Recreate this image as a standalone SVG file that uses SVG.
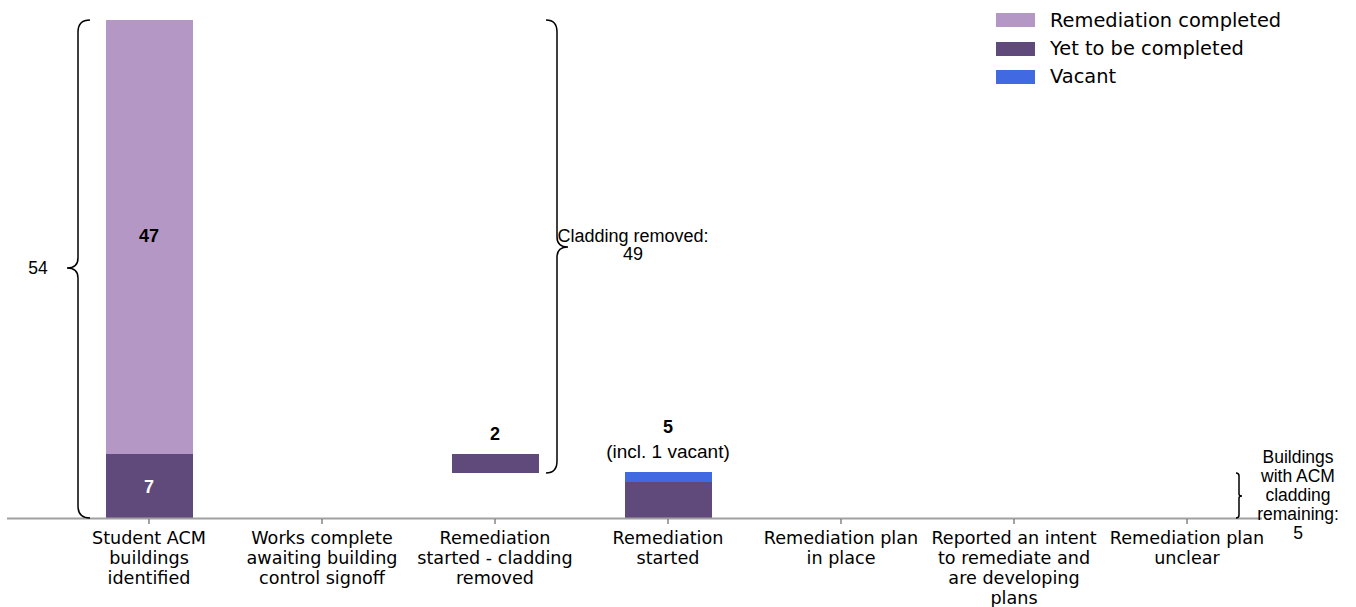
<svg xmlns="http://www.w3.org/2000/svg" width="1356" height="607" viewBox="0 0 1356 607">
<style>
.cat{font-family:"DejaVu Sans",sans-serif;font-size:17.6px;fill:#000;text-anchor:middle}
.leg{font-family:"DejaVu Sans",sans-serif;font-size:19.4px;fill:#000}
.val{font-family:"Liberation Sans",Arial,sans-serif;font-size:18px;font-weight:bold;fill:#000;text-anchor:middle}
.ann{font-family:"Liberation Sans",Arial,sans-serif;font-size:18px;fill:#000;text-anchor:middle}
.ann2{font-family:"Liberation Sans",Arial,sans-serif;font-size:17.5px;fill:#000;text-anchor:middle}
.done{fill:#b497c4}
.todo{fill:#604a7b}
.vac{fill:#4169e1}
.brace{fill:none;stroke:#000;stroke-width:1.5}
.tick{stroke:#666;stroke-width:1.2}
</style>
<rect width="1356" height="607" fill="#fff"/>
<g id="legend">
<rect class="done" x="996" y="13" width="39" height="14"/>
<text class="leg" x="1050" y="27">Remediation completed</text>
<rect class="todo" x="996" y="42" width="39" height="14"/>
<text class="leg" x="1050" y="55">Yet to be completed</text>
<rect class="vac" x="996" y="70" width="39" height="14"/>
<text class="leg" x="1050" y="83">Vacant</text>
</g>
<g id="bar-identified">
<rect class="done" x="106" y="20" width="87" height="434"/>
<rect class="todo" x="106" y="454" width="87" height="64"/>
<text class="val" x="149" y="242">47</text>
<text class="val" x="149" y="493" style="fill:#fff">7</text>
</g>
<g id="bar-cladding-removed">
<rect class="todo" x="452" y="454" width="87" height="19"/>
<text class="val" x="495" y="440">2</text>
</g>
<g id="bar-remediation-started">
<rect class="vac" x="625" y="472" width="87" height="10"/>
<rect class="todo" x="625" y="482" width="87" height="36"/>
<text class="val" x="668" y="433">5</text>
<text class="ann" x="668" y="458" style="font-size:19px">(incl. 1 vacant)</text>
</g>
<g id="axis">
<line x1="7" y1="518.5" x2="1262" y2="518.5" stroke="#a0a0a0" stroke-width="2"/>
<line class="tick" x1="149" y1="519" x2="149" y2="524"/>
<line class="tick" x1="322" y1="519" x2="322" y2="524"/>
<line class="tick" x1="495" y1="519" x2="495" y2="524"/>
<line class="tick" x1="668" y1="519" x2="668" y2="524"/>
<line class="tick" x1="841" y1="519" x2="841" y2="524"/>
<line class="tick" x1="1014" y1="519" x2="1014" y2="524"/>
<line class="tick" x1="1187" y1="519" x2="1187" y2="524"/>
</g>
<g id="categories">
<text class="cat" x="149" y="544">Student ACM<tspan x="149" dy="20">buildings</tspan><tspan x="149" dy="20">identified</tspan></text>
<text class="cat" x="322" y="544">Works complete<tspan x="322" dy="20">awaiting building</tspan><tspan x="322" dy="20">control signoff</tspan></text>
<text class="cat" x="495" y="544">Remediation<tspan x="495" dy="20">started - cladding</tspan><tspan x="495" dy="20">removed</tspan></text>
<text class="cat" x="668" y="544">Remediation<tspan x="668" dy="20">started</tspan></text>
<text class="cat" x="841" y="544">Remediation plan<tspan x="841" dy="20">in place</tspan></text>
<text class="cat" x="1014" y="544">Reported an intent<tspan x="1014" dy="20">to remediate and</tspan><tspan x="1014" dy="20">are developing</tspan><tspan x="1014" dy="20">plans</tspan></text>
<text class="cat" x="1187" y="544">Remediation plan<tspan x="1187" dy="20">unclear</tspan></text>
</g>
<g id="connectors">
<path class="brace" d="M90,20 Q78,20 78,32 L78,258 Q78,268 67,268 Q78,268 78,278 L78,506 Q78,518 90,518"/>
<path class="brace" d="M546,20 Q557,20 557,32 L557,237 Q557,247 568,247 Q557,247 557,257 L557,461 Q557,473 546,473"/>
<path class="brace" d="M1236,473 Q1239,473 1239,476 L1239,494 Q1239,496 1242,496 Q1239,496 1239,498 L1239,515 Q1239,518 1236,518"/>
</g>
<g id="annotation-total">
<text class="ann2" x="38" y="274">54</text>
</g>
<g id="annotation-cladding">
<text class="ann" x="633" y="242">Cladding removed:<tspan x="633" dy="18">49</tspan></text>
</g>
<g id="annotation-remaining">
<text class="ann2" x="1298" y="463">Buildings<tspan x="1298" dy="19">with ACM</tspan><tspan x="1298" dy="19">cladding</tspan><tspan x="1298" dy="19">remaining:</tspan><tspan x="1298" dy="19">5</tspan></text>
</g>
</svg>
